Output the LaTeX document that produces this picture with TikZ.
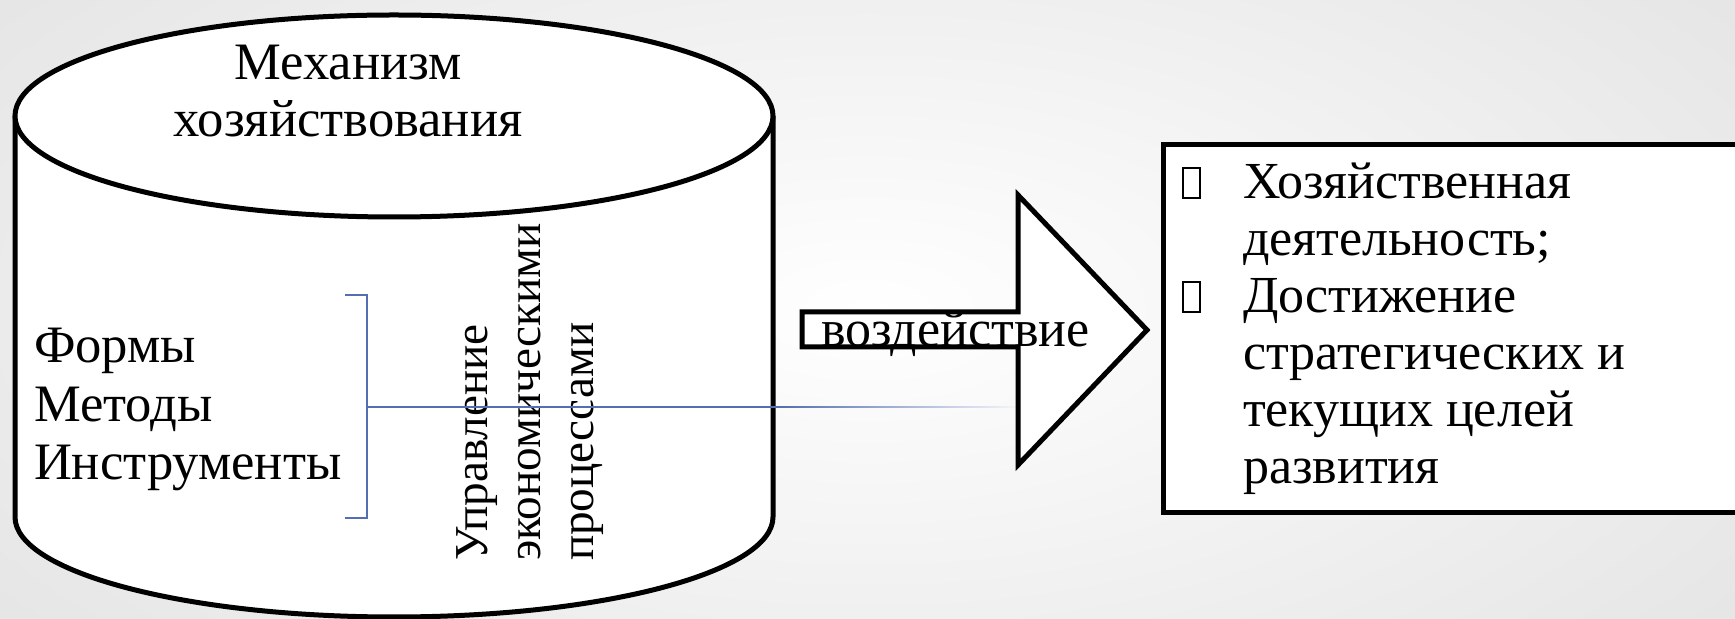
\documentclass[tikz,border=0pt]{standalone}
\usepackage{fontspec}
\setmainfont{Liberation Serif}
\definecolor{bluec}{RGB}{84,110,178}
\definecolor{bggray}{RGB}{230,230,230}
\begin{document}
\begin{tikzpicture}[x=0.5pt,y=-0.5pt,
  outline/.style={draw=black, line width=2.5pt, fill=white, line join=miter},
  brk/.style={draw=bluec, line width=0.8pt},
  txt/.style={inner sep=0pt, outer sep=0pt},
  missbox/.style={draw=black, line width=0.7pt},
]
\useasboundingbox (0,0) rectangle (1735,619);
\clip (0,0) rectangle (1735,619);
\shade[inner color=white, outer color=bggray] (-200,-200) rectangle (1935,819);

% cylinder
\coordinate (cTL) at (15,116);
\coordinate (cTR) at (773,116);
\coordinate (cBL) at (15,517);
\coordinate (cBR) at (773,517);
\coordinate (cBot) at (394,617);
\path[fill=white] (cTL) -- (cBL) .. controls (15,572) and (185,617) .. (cBot)
   .. controls (603,617) and (773,572) .. (cBR) -- (cTR) -- cycle;
\draw[line width=2.5pt] (cTL) -- (cBL) .. controls (15,572) and (185,617) .. (cBot)
   .. controls (603,617) and (773,572) .. (cBR) -- (cTR);
\draw[outline] (394,116) ellipse [x radius=379, y radius=101];

% title
\node[txt, anchor=base] (title) at (348,80) {\fontsize{26.3}{28.5}\selectfont
  \vtop{\hbox to 0pt{\hss Механизм\hss}\hbox to 0pt{\hss хозяйствования\hss}}};

% left list
\node[txt, anchor=base west] (list) at (34,363) {\fontsize{26.3}{29.25}\selectfont
  \vtop{\hbox{Формы}\hbox{Методы}\hbox{Инструменты}}};

% rotated text
\node[txt, rotate=90, anchor=base west] (upr) at (487,561) {\fontsize{23.6}{26.5}\selectfont
  \vtop{\hbox{Управление}\hbox{экономическими}\hbox{процессами}}};

% bracket
\coordinate (bT) at (367,295);
\coordinate (bB) at (367,518);
\coordinate (bM) at (367,407);
\coordinate (bF) at (780,407);
\coordinate (bE) at (1018,407);
\draw[brk] (345,295) -- (bT) -- (bB) -- (345,518);
\draw[brk] (bM) -- (bF);
\draw[draw=bluec, line width=1.1pt] (bM) -- (390,407);
\shade[left color=bluec, right color=bluec!6] (780,406.2) rectangle (1018,407.8);

% block arrow
\draw[outline] (802,312) -- (1018,312) -- (1018,195) -- (1147,330) -- (1018,465)
   -- (1018,347) -- (802,347) -- cycle;
\node[txt, anchor=base west] (vozd) at (821,347) {\fontsize{26}{28.5}\selectfont воздействие};

% right box
\draw[outline] (1163,145) rectangle (1780,513);
\draw[missbox] (1183,168) rectangle (1200,198);
\draw[missbox] (1183,282) rectangle (1200,312);
\node[txt, anchor=base west] (goals) at (1243,199) {\fontsize{26}{28.5}\selectfont
  \vtop{\hbox{Хозяйственная}\hbox{деятельность;}\hbox{Достижение}\hbox{стратегических и}\hbox{текущих целей}\hbox{развития}}};
\end{tikzpicture}
\end{document}
